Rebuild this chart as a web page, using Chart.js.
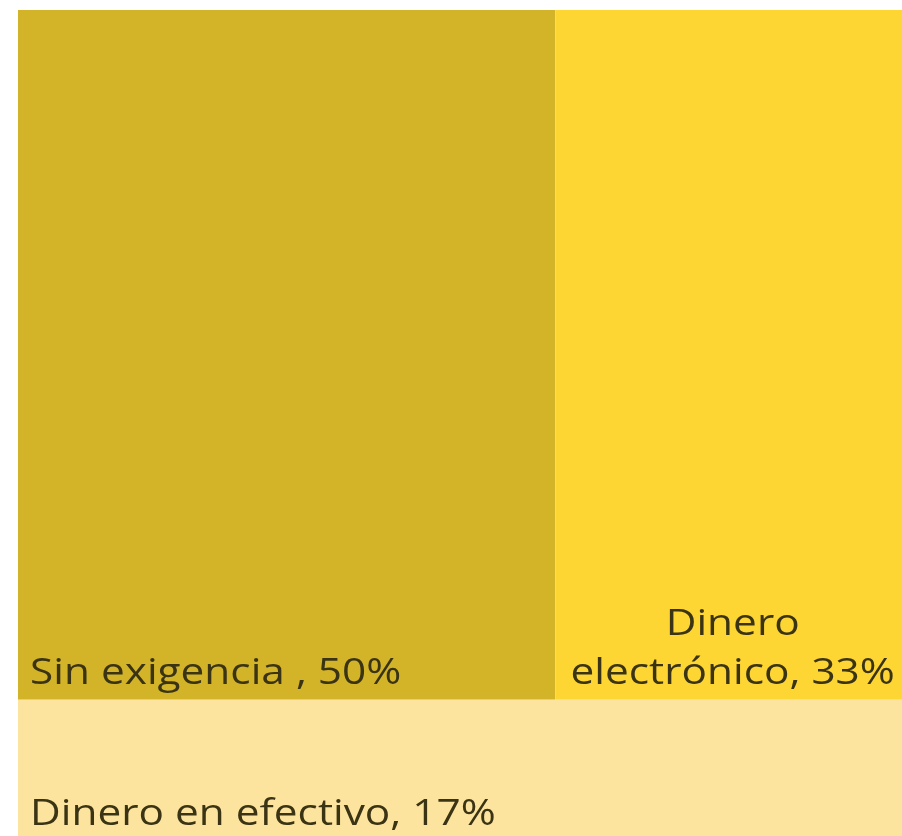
<html>
<head>
<meta charset="utf-8">
<script src="https://cdn.jsdelivr.net/npm/chart.js@4.4.1/dist/chart.umd.min.js"></script>
<style>
  body { margin:0; overflow:hidden; background:#ffffff; }
  #wrap { position:absolute; left:0; top:0; width:910px; height:841px; }
</style>
</head>
<body>
<div id="wrap"><canvas id="myChart"></canvas></div>
<script>
// data
var categories = ['Sin exigencia ', 'Dinero electrónico', 'Dinero en efectivo'];
var shares = [50, 33, 17];
var tileColors = ['#D3B428', '#FDD633', '#FDE49E'];

var labelFont = "37px 'Open Sans'";
var labelStretch = 1.145; // reference text is a bit wide
var labelColor = '#3b3414';

// rows laid out top to bottom, tiles in each row left to right (squarified)
function layoutRows(values, aspect) {
    var total = values.reduce(function(a, b){ return a + b; }, 0);
    function worst(row) {
        var s = row.reduce(function(a, b){ return a + b; }, 0);
        var h = s / total;
        var m = 0;
        row.forEach(function(v){
            var w = v / s * aspect;
            m = Math.max(m, w / h, h / w);
        });
        return m;
    }
    var rects = [];
    var y = 0, i = 0;
    while (i < values.length) {
        var row = [values[i]];
        var best = worst(row);
        var j = i + 1;
        while (j < values.length) {
            var cand = row.concat([values[j]]);
            var w = worst(cand);
            if (w <= best) { row = cand; best = w; j++; } else break;
        }
        var s = row.reduce(function(a, b){ return a + b; }, 0);
        var rh = s / total;
        var x = 0;
        row.forEach(function(v, k){
            var fw = v / s;
            rects.push({ index: i + k, x0: x, x1: x + fw, y0: y, y1: y + rh });
            x += fw;
        });
        y += rh;
        i = j;
    }
    return rects;
}

function textW(ctx, t) { return ctx.measureText(t).width * labelStretch; }

function wrapText(ctx, text, maxW) {
    if (textW(ctx, text) <= maxW) return [text];
    var words = text.split(' ');
    var lines = [], cur = '';
    words.forEach(function(wd){
        var t = cur ? cur + ' ' + wd : wd;
        if (cur && textW(ctx, t) > maxW) { lines.push(cur); cur = wd; }
        else cur = t;
    });
    if (cur) lines.push(cur);
    return lines;
}

var treemapPlugin = {
    id: 'treemapTiles',
    beforeDatasetsDraw: function(chart) {
        var ctx = chart.ctx;
        var xs = chart.scales.x, ys = chart.scales.y;
        var area = chart.chartArea;
        var rects = layoutRows(shares, (area.right - area.left) / (area.bottom - area.top));
        ctx.save();
        rects.forEach(function(r){
            var px0 = xs.getPixelForValue(r.x0), px1 = xs.getPixelForValue(r.x1);
            var py0 = ys.getPixelForValue(r.y0), py1 = ys.getPixelForValue(r.y1);
            ctx.fillStyle = tileColors[r.index];
            ctx.fillRect(px0, py0, px1 - px0, py1 - py0);

            ctx.font = labelFont;
            ctx.fillStyle = labelColor;
            ctx.textBaseline = 'alphabetic';
            var text = categories[r.index] + ', ' + shares[r.index] + '%';
            var pad = 12;
            var lines = wrapText(ctx, text, px1 - px0 - 2 * pad);
            var lh = 49;
            var base = py1 - 16;
            lines.forEach(function(line, k){
                var yy = base - (lines.length - 1 - k) * lh;
                ctx.save();
                if (lines.length > 1) {
                    ctx.textAlign = 'center';
                    ctx.translate((px0 + px1) / 2, yy);
                } else {
                    ctx.textAlign = 'left';
                    ctx.translate(px0 + pad, yy);
                }
                ctx.scale(labelStretch, 1);
                ctx.fillText(line, 0, 0);
                ctx.restore();
            });
        });
        ctx.restore();
    }
};

var ctx = document.getElementById('myChart').getContext('2d');
var chart = new Chart(ctx, {
    type: 'scatter',
    data: {
        datasets: [{ label: 'Medio de pago', data: [] }]
    },
    options: {
        responsive: true,
        maintainAspectRatio: false,
        animation: false,
        layout: { padding: { left: 18, top: 10, right: 0, bottom: 0 } },
        plugins: { legend: { display: false }, tooltip: { enabled: false } },
        scales: {
            x: { type: 'linear', min: 0, max: 1, display: false },
            y: { type: 'linear', min: 0, max: 1, reverse: true, display: false }
        }
    },
    plugins: [treemapPlugin]
});
</script>
</body>
</html>
